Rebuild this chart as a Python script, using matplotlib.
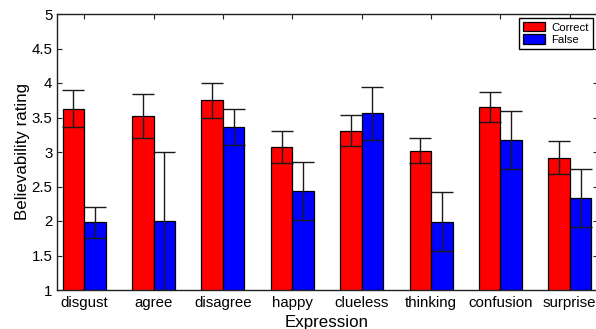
import matplotlib
matplotlib.use("Agg")
import matplotlib.pyplot as plt
import numpy as np

plt.rcParams['font.family'] = ['Liberation Sans', 'DejaVu Sans']

categories = ["disgust", "agree", "disagree", "happy", "clueless", "thinking", "confusion", "surprise"]
correct = [3.63, 3.52, 3.75, 3.07, 3.31, 3.02, 3.65, 2.92]
correct_err = [0.27, 0.32, 0.25, 0.23, 0.23, 0.18, 0.22, 0.235]
false_vals = [1.98, 2.00, 3.36, 2.43, 3.56, 1.99, 3.17, 2.33]
false_err = [0.23, 1.00, 0.26, 0.42, 0.38, 0.43, 0.42, 0.42]
series_names = ["Correct", "False"]
yticks = [1, 1.5, 2, 2.5, 3, 3.5, 4, 4.5, 5]

W, H = 596, 329
fig = plt.figure(figsize=(W / 100, H / 100), dpi=100)
ax = fig.add_axes([56.5 / W, (H - 290) / H, 541 / W, 276 / H])

x = np.arange(1, len(categories) + 1)
bw = 0.31
ecol = '#1a1a1a'
ax.bar(x - bw / 2, correct, bw, color='#ff0000', edgecolor='black', linewidth=0.9,
       label=series_names[0], zorder=2)
ax.bar(x + bw / 2, false_vals, bw, color='#0000ff', edgecolor='black', linewidth=0.9,
       label=series_names[1], zorder=2)
ax.errorbar(x - bw / 2, correct, yerr=correct_err, fmt='none', ecolor=ecol, elinewidth=1.0,
            capsize=7.6, capthick=1.0, zorder=3)
ax.errorbar(x + bw / 2, false_vals, yerr=false_err, fmt='none', ecolor=ecol, elinewidth=1.0,
            capsize=7.6, capthick=1.0, zorder=3)

ax.set_xlim(0.6, 8.4)
ax.set_ylim(1, 5)
ax.set_yticks(yticks)
ax.set_yticklabels([f"{v:g}" for v in yticks])
ax.set_xticks(x)
ax.set_xticklabels(categories)
ax.tick_params(axis='both', direction='in', length=3.6, width=0.8, labelsize=10.8,
               top=True, right=True, colors='#222222', labelcolor='black')
ax.tick_params(axis='x', pad=4)
ax.tick_params(axis='y', pad=3)
for s in ax.spines.values():
    s.set_linewidth(1.0)
    s.set_color('#222222')

ax.set_ylabel("Believability rating", fontsize=12.2, labelpad=1)
ax.set_xlabel("Expression", fontsize=12.2, labelpad=4)

leg = ax.legend(loc='upper right', bbox_to_anchor=(593 / W, 1 - 18 / H),
                bbox_transform=fig.transFigure, borderaxespad=0, fontsize=8.2,
                fancybox=False, framealpha=1, edgecolor='black',
                handlelength=1.9, handleheight=0.9, handletextpad=0.6,
                borderpad=0.35, labelspacing=0.15)
leg.get_frame().set_linewidth(1.0)

fig.savefig("out.png", dpi=100)
